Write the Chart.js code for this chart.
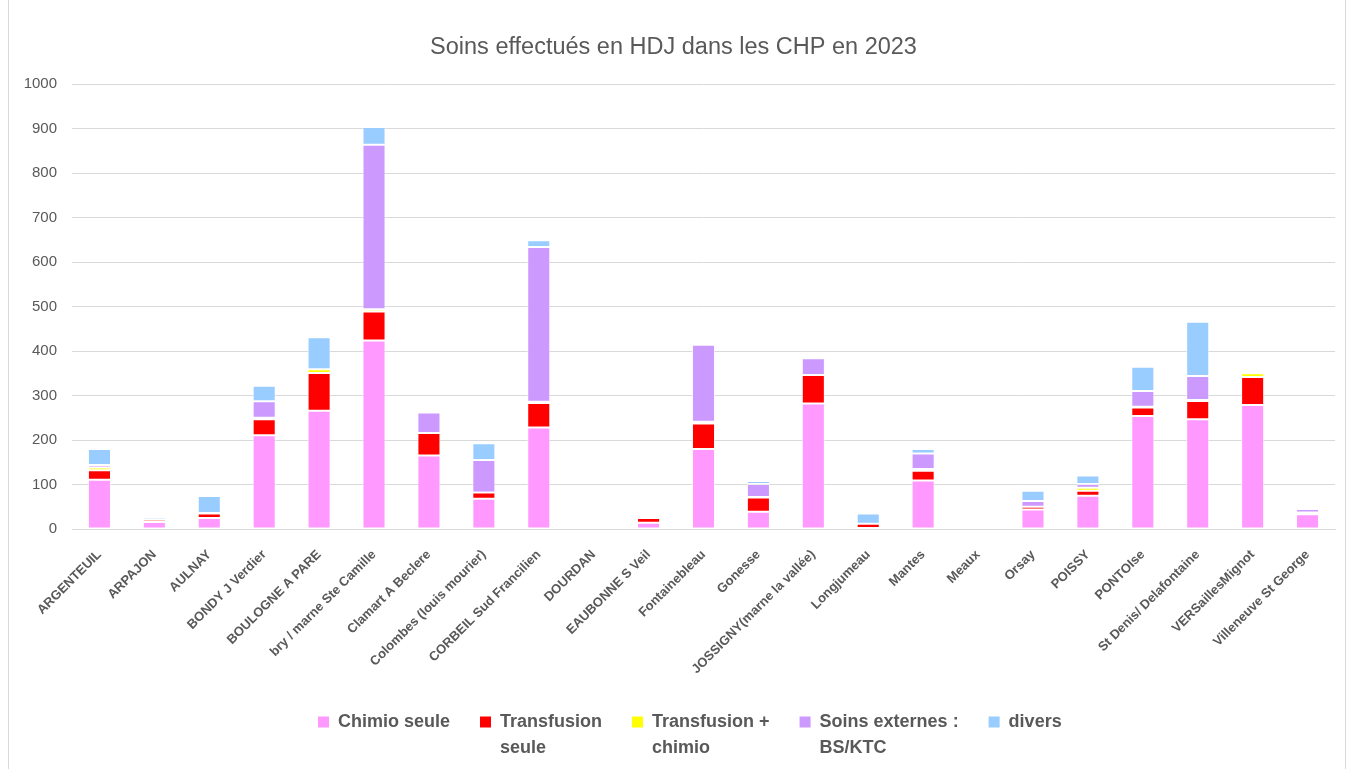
<!DOCTYPE html>
<html>
<head>
<meta charset="utf-8">
<title>Soins effectués en HDJ dans les CHP en 2023</title>
<script src="https://cdn.jsdelivr.net/npm/chart.js@4/dist/chart.umd.min.js"></script>
<style>
  html, body { margin: 0; padding: 0; background: #fff; }
  #wrap { position: relative; width: 1347px; height: 769px; }
  #frame { position: absolute; left: 8px; top: -1px; width: 1338px; height: 771px; border: 1px solid #d9d9d9; box-sizing: border-box; pointer-events: none; }
</style>
</head>
<body>
<div id="wrap">
  <canvas id="hdjChart" width="1347" height="769"></canvas>
  <div id="frame"></div>
</div>
<script>
const centres = ['ARGENTEUIL', 'ARPAJON', 'AULNAY', 'BONDY J Verdier', 'BOULOGNE A PARE',
  'bry / marne Ste Camille', 'Clamart A Beclere', 'Colombes (louis mourier)', 'CORBEIL Sud Francilien',
  'DOURDAN', 'EAUBONNE S Veil', 'Fontainebleau', 'Gonesse', 'JOSSIGNY(marne la vallée)', 'Longjumeau',
  'Mantes', 'Meaux', 'Orsay', 'POISSY', 'PONTOIse', 'St Denis/ Delafontaine', 'VERSaillesMignot',
  'Villeneuve St George'];

const chimioSeule       = [111, 16, 25, 211, 266, 424, 165, 68, 228, 0, 14, 180, 39, 282, 2, 109, 0, 44, 75, 254, 247, 279, 33];
const transfusionSeule  = [21, 5, 10, 36, 85, 65, 51, 14, 55, 0, 11, 57, 32, 64, 10, 22, 0, 6, 11, 19, 41, 63, 4];
const transfusionChimio = [6, 0, 0, 3, 8, 5, 0, 0, 3, 0, 0, 4, 1, 0, 0, 4, 0, 0, 7, 2, 2, 8, 0];
const soinsExternes     = [6, 1, 1, 37, 0, 370, 46, 73, 348, 0, 1, 173, 29, 38, 0, 35, 0, 13, 8, 35, 54, 0, 8];
const divers            = [36, 5, 38, 35, 72, 40, 0, 38, 15, 0, 3, 0, 7, 0, 23, 10, 0, 23, 19, 55, 122, 0, 2];

// legend text is wrapped on two lines in the original
const legendLine1 = ['Chimio seule', 'Transfusion', 'Transfusion +', 'Soins externes :', 'divers'];
const legendLine2 = ['', 'seule', 'chimio', 'BS/KTC', ''];

const yTicks = [0, 100, 200, 300, 400, 500, 600, 700, 800, 900, 1000];

const grey = '#595959';
const legendFont = { family: 'Liberation Sans', size: 18, weight: 'bold', lineHeight: 1.2 };

function serie(i, data, color) {
  return {
    label: (legendLine1[i] + ' ' + legendLine2[i]).trim(),
    data: data,
    backgroundColor: color,
    borderColor: 'rgba(255,255,255,0.6)',
    borderWidth: 1,
    borderSkipped: false,
    barPercentage: 0.42,
    categoryPercentage: 1
  };
}

// Excel puts the legend left of centre: move the legend box after layout
const legendShift = {
  id: 'legendShift',
  afterLayout(chart) {
    const lg = chart.legend;
    const w = lg.right - lg.left;
    lg.left = 288;
    lg.right = lg.left + w;
    lg.top = 683;
    lg.bottom = 769;
    lg.height = lg.bottom - lg.top;
  },
  afterDraw(chart) {
    const lg = chart.legend;
    const c = chart.ctx;
    c.save();
    c.fillStyle = grey;
    c.font = 'bold 18px "Liberation Sans"';
    c.textBaseline = 'middle';
    c.textAlign = 'left';
    lg.legendHitBoxes.forEach((hb, i) => {
      if (!legendLine2[i]) return;
      c.fillText(legendLine2[i], hb.left + 11 + 9, hb.top + hb.height / 2 + 26);
    });
    c.restore();
  }
};

const ctx = document.getElementById('hdjChart').getContext('2d');

new Chart(ctx, {
  type: 'bar',
  data: {
    labels: centres,
    datasets: [
      serie(0, chimioSeule, '#ff99ff'),
      serie(1, transfusionSeule, '#ff0000'),
      serie(2, transfusionChimio, '#ffff00'),
      serie(3, soinsExternes, '#cc99ff'),
      serie(4, divers, '#99ccff')
    ]
  },
  plugins: [legendShift],
  options: {
    responsive: false,
    animation: false,
    layout: { padding: { left: 12, right: 12, top: 0, bottom: 0 } },
    plugins: {
      title: {
        display: true,
        text: 'Soins effectués en HDJ dans les CHP en 2023',
        color: grey,
        font: { family: 'Liberation Sans', size: 23.5, weight: 'normal' },
        padding: { top: 33, bottom: 23 }
      },
      legend: {
        position: 'bottom',
        align: 'start',
        labels: {
          color: grey,
          font: legendFont,
          boxWidth: 11,
          boxHeight: 11,
          padding: 30,
          generateLabels: function(chart) {
            const items = Chart.defaults.plugins.legend.labels.generateLabels(chart);
            items.forEach((it, i) => { it.text = legendLine1[i]; it.lineWidth = 0; });
            return items;
          }
        }
      },
      tooltip: { enabled: false }
    },
    scales: {
      x: {
        stacked: true,
        grid: { display: false },
        border: { color: '#d9d9d9', width: 1 },
        ticks: {
          color: grey,
          font: { family: 'Liberation Sans', size: 13, weight: 'bold' },
          minRotation: 45,
          maxRotation: 45,
          autoSkip: false,
          padding: 10
        },
        afterFit: function(scale) { scale.height = 182; }
      },
      y: {
        stacked: true,
        min: 0,
        max: 1000,
        afterBuildTicks: function(scale) { scale.ticks = yTicks.map(v => ({ value: v })); },
        grid: { color: '#d9d9d9', lineWidth: 1, drawTicks: false },
        border: { display: false },
        ticks: {
          color: grey,
          font: { family: 'Liberation Sans', size: 15 },
          padding: 15,
          callback: function(value) { return String(value); }
        },
        afterFit: function(scale) { scale.width = 60; }
      }
    }
  }
});
</script>
</body>
</html>
